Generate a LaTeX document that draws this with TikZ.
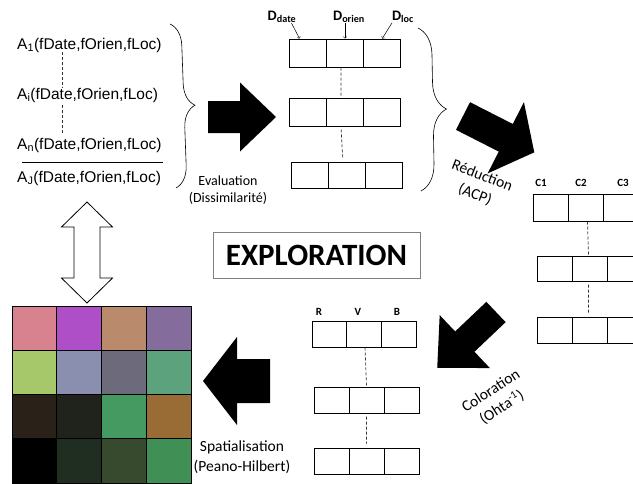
\documentclass[tikz,border=0pt]{standalone}
\usepackage{fontspec}
\setmainfont{Carlito}
\newfontfamily\arialfont{Liberation Sans}
\usetikzlibrary{calc,decorations.pathreplacing}
\definecolor{p11}{HTML}{D8828F}\definecolor{p12}{HTML}{AE4FC8}\definecolor{p13}{HTML}{B98A6B}\definecolor{p14}{HTML}{846C9C}
\definecolor{p21}{HTML}{A7C86A}\definecolor{p22}{HTML}{8A8FB0}\definecolor{p23}{HTML}{6C6A7B}\definecolor{p24}{HTML}{5CA27C}
\definecolor{p31}{HTML}{2A2118}\definecolor{p32}{HTML}{20231C}\definecolor{p33}{HTML}{459A62}\definecolor{p34}{HTML}{996C35}
\definecolor{p41}{HTML}{000000}\definecolor{p42}{HTML}{1F2E20}\definecolor{p43}{HTML}{384A2E}\definecolor{p44}{HTML}{408F55}
\tikzset{
  cellule/.style={draw, line width=1pt, inner sep=0},
  pointille/.style={dash pattern=on 3pt off 2pt, line width=0.7pt, black!80, shorten <=3pt, shorten >=4pt},
  attribut/.style={font=\arialfont\fontsize{15.5}{18}\selectfont, anchor=west, inner sep=0},
  entete/.style={font=\bfseries\fontsize{11}{13}\selectfont, inner sep=0},
  legende/.style={align=center, inner sep=0},
}
\begin{document}
\begin{tikzpicture}[x=1pt,y=-1pt]
\useasboundingbox (0,0) rectangle (633,483);
% objets de depart
\node[attribut] (a1) at (17,45) {A\textsubscript{1}(fDate,fOrien,fLoc)};
\node[attribut] (ai) at (17,95) {A\textsubscript{i}(fDate,fOrien,fLoc)};
\node[attribut] (an) at (17,145) {A\textsubscript{n}(fDate,fOrien,fLoc)};
\node[attribut] (aj) at (17,178) {A\textsubscript{J}(fDate,fOrien,fLoc)};
\coordinate (xa) at (62,0);
\draw[pointille] (a1.south -| xa) -- (ai.north -| xa) (ai.south -| xa) -- (an.north -| xa);
\draw[line width=0.7pt] (22,162) -- (163,162);
\draw[decorate, decoration={brace, amplitude=22pt}, line width=0.6pt] (170,24) -- (176,188);
\draw[decorate, decoration={brace, amplitude=27pt}, line width=0.6pt] (418,28) -- (421,191);
% tableaux
\foreach \nom/\x/\y/\w/\h in {d1/289/39/37.3/28, d2/289/98/37.3/28, d3/291/162/37.3/26,
  c1/533/194/35/27, c2/537/256/35/25, c3/537/317/35/26,
  r1/312/321/34.7/26, r2/314/387/35/26, r3/314/448/35/26}{
  \foreach \k/\i in {a/0,b/1,c/2}{
    \node[cellule, minimum width=\w, minimum height=\h] (\nom\k) at (\x+\i*\w+\w/2, \y+\h/2) {};}
}
\draw[pointille] ([xshift=-4pt]d1b.south) -- ([xshift=-4pt]d2b.north) ([xshift=-4pt]d2b.south) -- ([xshift=-4pt]d3b.north);
\draw[pointille] ([xshift=2pt]c1b.south) -- ([xshift=-1pt]c2b.north) ([xshift=-1pt]c2b.south) -- ([xshift=-1pt]c3b.north);
\draw[pointille] ([xshift=1pt]r1b.south) -- (r2b.north) (r2b.south) -- (r3b.north);
% entetes
\node[font=\bfseries\fontsize{14.5}{16}\selectfont, inner sep=0] (ddate) at (282,17) {D\textsubscript{date}};
\node[font=\bfseries\fontsize{14.5}{16}\selectfont, inner sep=0] (dorien) at (349,17) {D\textsubscript{orien}};
\node[font=\bfseries\fontsize{14.5}{16}\selectfont, inner sep=0] (dloc) at (403,17) {D\textsubscript{loc}};
\draw[->, line width=0.5pt] ([xshift=-5pt]ddate.south east) -- ([xshift=11pt]d1a.north west);
\draw[->, line width=0.5pt] (d1b.north |- dorien.south) -- (d1b.north);
\draw[->, line width=0.5pt] (dloc.south west) -- (d1c.north);
\foreach \t/\x in {C1/541, C2/581, C3/623}{\node[entete] (e\t) at (\x,183) {\t};}
\foreach \t/\x in {R/319, V/358, B/397}{\node[entete] (e\t) at (\x,312) {\t};}
% grosses fleches
\foreach \px/\py/\ang/\lon/\corps/\tete/\pointe in {208/117/0/68/16/34.5/36, 463/116/-27/80/15.5/40/32,
  496/312/-136.5/81/14/36.5/38, 270/381/180/67/22/44/34}{
  \fill[shift={(\px,\py)}, rotate=\ang] (0,-\corps) -- (\lon-\pointe,-\corps) -- (\lon-\pointe,-\tete) -- (\lon,0)
    -- (\lon-\pointe,\tete) -- (\lon-\pointe,\corps) -- (0,\corps) -- cycle;
}
\draw[fill=white, line width=0.8pt, shift={(87,202)}] (0,0) -- (25.5,25) -- (13,25) -- (13,76) -- (25.5,76) -- (0,101)
  -- (-25.5,76) -- (-13,76) -- (-13,25) -- (-25.5,25) -- cycle;
% legendes
\node[legende, font=\fontsize{14}{17}\selectfont] (eval) at (228,190) {Evaluation\\(Dissimilarité)};
\node[legende, font=\fontsize{15.5}{20}\selectfont, rotate=-21] (reduc) at (478.5,185.5) {Réduction\\(ACP)};
\node[legende, font=\fontsize{15.5}{20}\selectfont, rotate=33] (color) at (496.5,399.5) {Coloration\\(Ohta\textsuperscript{-1})};
\node[legende, font=\fontsize{15.5}{20}\selectfont] (spat) at (242,457) {Spatialisation\\(Peano-Hilbert)};
\node[draw=gray, line width=0.8pt, minimum width=207, minimum height=46, font=\bfseries\fontsize{31}{33}\selectfont] (explo) at (316.5,255) {EXPLORATION};
% image coloree
\foreach \i/\j in {1/1,1/2,1/3,1/4,2/1,2/2,2/3,2/4,3/1,3/2,3/3,3/4,4/1,4/2,4/3,4/4}{
  \filldraw[fill=p\i\j, draw=black, line width=1pt] (12+\j*44.75-44.75, 306+\i*44.3-44.3) rectangle +(44.75,44.3);
}
\end{tikzpicture}
\end{document}
